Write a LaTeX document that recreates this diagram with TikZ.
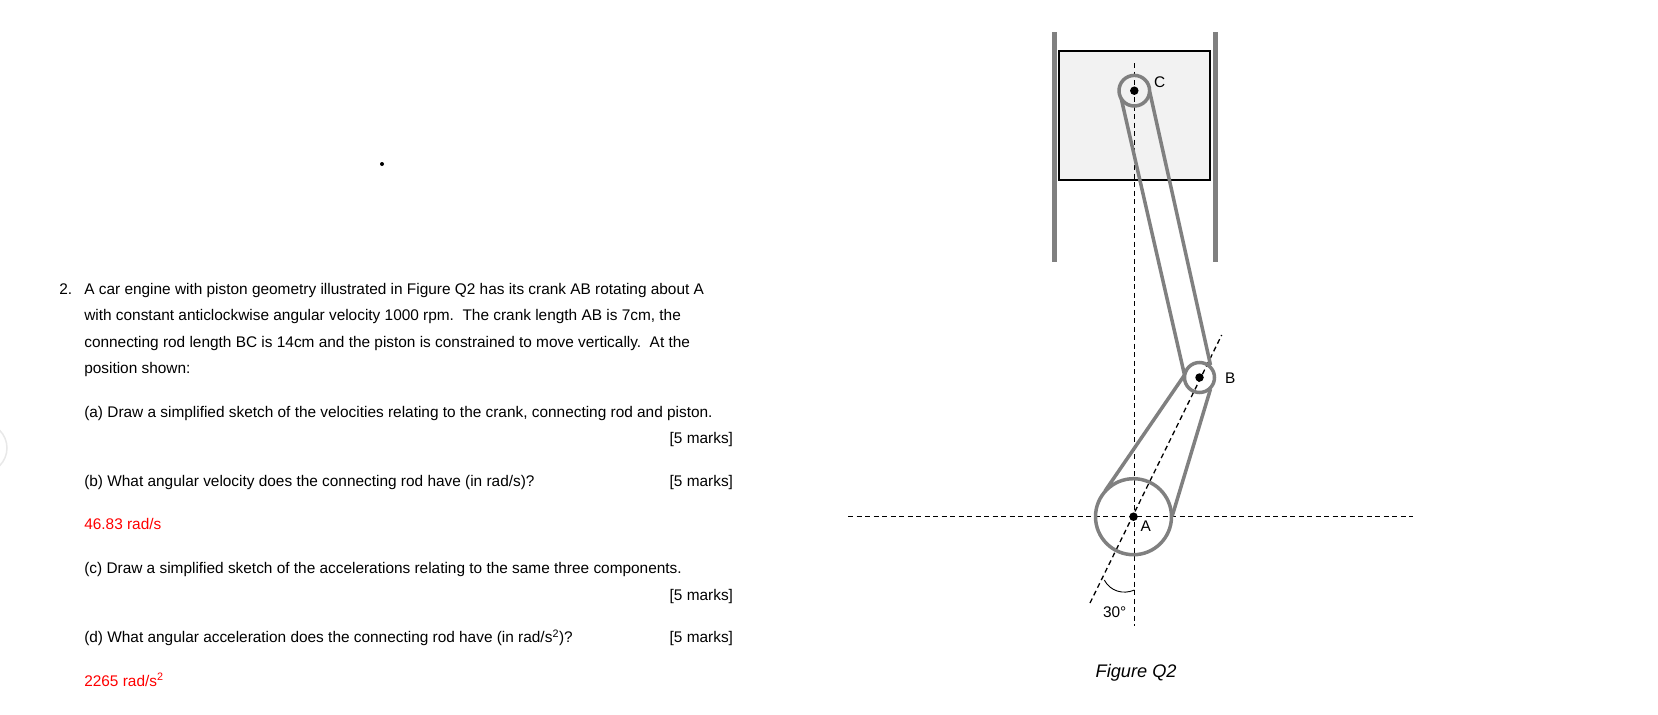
\documentclass[tikz,border=0pt]{standalone}
\usepackage{fontspec}
\setmainfont{Liberation Sans}
\definecolor{rodgray}{HTML}{808080}
\definecolor{pistonfill}{HTML}{F2F2F2}
\definecolor{answerred}{HTML}{FF0000}
\tikzset{
  qtext/.style={anchor=base west,inner sep=0pt,outer sep=0pt,font=\fontsize{15.4}{18}\selectfont,text=black},
  marks/.style={anchor=base east,inner sep=0pt,outer sep=0pt,font=\fontsize{15.4}{18}\selectfont,text=black},
  answer/.style={qtext,text=answerred},
  lab/.style={anchor=base west,inner sep=0pt,outer sep=0pt,font=\fontsize{15.4}{18}\selectfont},
  rod/.style={draw=rodgray,line width=3.5pt},
  wall/.style={draw=rodgray,line width=4.8pt},
  cl/.style={draw=black,line width=1.3pt,dash pattern=on 5pt off 3.5pt},
  pin/.style={circle,fill=black,inner sep=0pt,minimum size=8.5pt},
}
\begin{document}
\begin{tikzpicture}[x=1pt,y=-1pt]
\useasboundingbox (0,0) rectangle (1658,715);
% faint circle at left edge and stray dot
\draw[draw=black!9,line width=1.5pt,fill=white] (-18,448) circle[radius=25];
\fill[black] (382,164) circle[radius=2];
% text
\node[qtext] (n2) at (59.3,294) {2.};
\node[qtext] (l1) at (84.3,294) {A car engine with piston geometry illustrated in Figure Q2 has its crank AB rotating about A};
\node[qtext] (l2) at (84.3,320.7) {with constant anticlockwise angular velocity 1000 rpm.\ \ The crank length AB is 7cm, the};
\node[qtext] (l3) at (84.3,347) {connecting rod length BC is 14cm and the piston is constrained to move vertically.\ \ At the};
\node[qtext] (l4) at (84.3,373.5) {position shown:};
\node[qtext] (qa) at (84.3,417) {(a) Draw a simplified sketch of the velocities relating to the crank, connecting rod and piston.};
\node[marks] (ma) at (733,443) {[5 marks]};
\node[qtext] (qb) at (84.3,486) {(b) What angular velocity does the connecting rod have (in rad/s)?};
\node[marks] (mb) at (733,486) {[5 marks]};
\node[answer] (ab) at (84.3,529) {46.83 rad/s};
\node[qtext] (qc) at (84.3,573) {(c) Draw a simplified sketch of the accelerations relating to the same three components.};
\node[marks] (mc) at (733,600) {[5 marks]};
\node[qtext] (qd) at (84.3,642.7) {(d) What angular acceleration does the connecting rod have (in rad/s\textsuperscript{2})?};
\node[marks] (md) at (733,642.7) {[5 marks]};
\node[answer] (ad) at (84.3,686) {2265 rad/s\textsuperscript{2}};
% geometry points
\coordinate (A) at (1133.5,516.7);
\coordinate (B) at (1199.5,377.5);
\coordinate (C) at (1134.3,90.7);
% piston and walls
\draw[draw=black,line width=2pt,fill=pistonfill] (1059,50.7) rectangle (1210.3,180);
\draw[wall] (1054.3,32) -- (1054.3,262);
\draw[wall] (1215.7,32) -- (1215.7,262);
% centre lines
\coordinate (vt) at (1134.4,63);
\coordinate (vb) at (1134.4,626);
\coordinate (hl) at (848,516.7);
\coordinate (hr) at (1413,516.7);
\coordinate (it) at (1221.7,335);
\coordinate (ib) at (1090,603);
\draw[cl] (vt) -- (vb);
\draw[cl] (hl) -- (hr);
\draw[cl] (ib) -- (it);
% rods
\draw[rod] (A) circle[radius=38];
\draw[rod] (B) circle[radius=15];
\draw[rod] (C) circle[radius=15.3];
\draw[rod] (1121.2,98.5) -- (1184.5,375);
\draw[rod] (1149.8,92) -- (1210.5,365);
\draw[rod] (1105,491) -- (1184.5,375);
\draw[rod] (1172.2,516) -- (1210.5,389);
% pins
\node[pin] (pa) at (A) {};
\node[pin] (pb) at (B) {};
\node[pin] (pc) at (C) {};
% angle arc
\draw[black,line width=0.9pt] (1104.3,580) .. controls (1110,591) and (1123,595) .. (1134.4,590);
% labels
\node[lab] (la) at (1140.7,531.7) {A};
\node[lab] (lb) at (1225,383) {B};
\node[lab] (lc) at (1154,87.7) {C};
\node[lab] (ang) at (1103,617.7) {30°};
\node[lab,font=\fontsize{18.2}{21}\selectfont\itshape] (fig) at (1095.7,677.5) {Figure Q2};
\end{tikzpicture}
\end{document}
